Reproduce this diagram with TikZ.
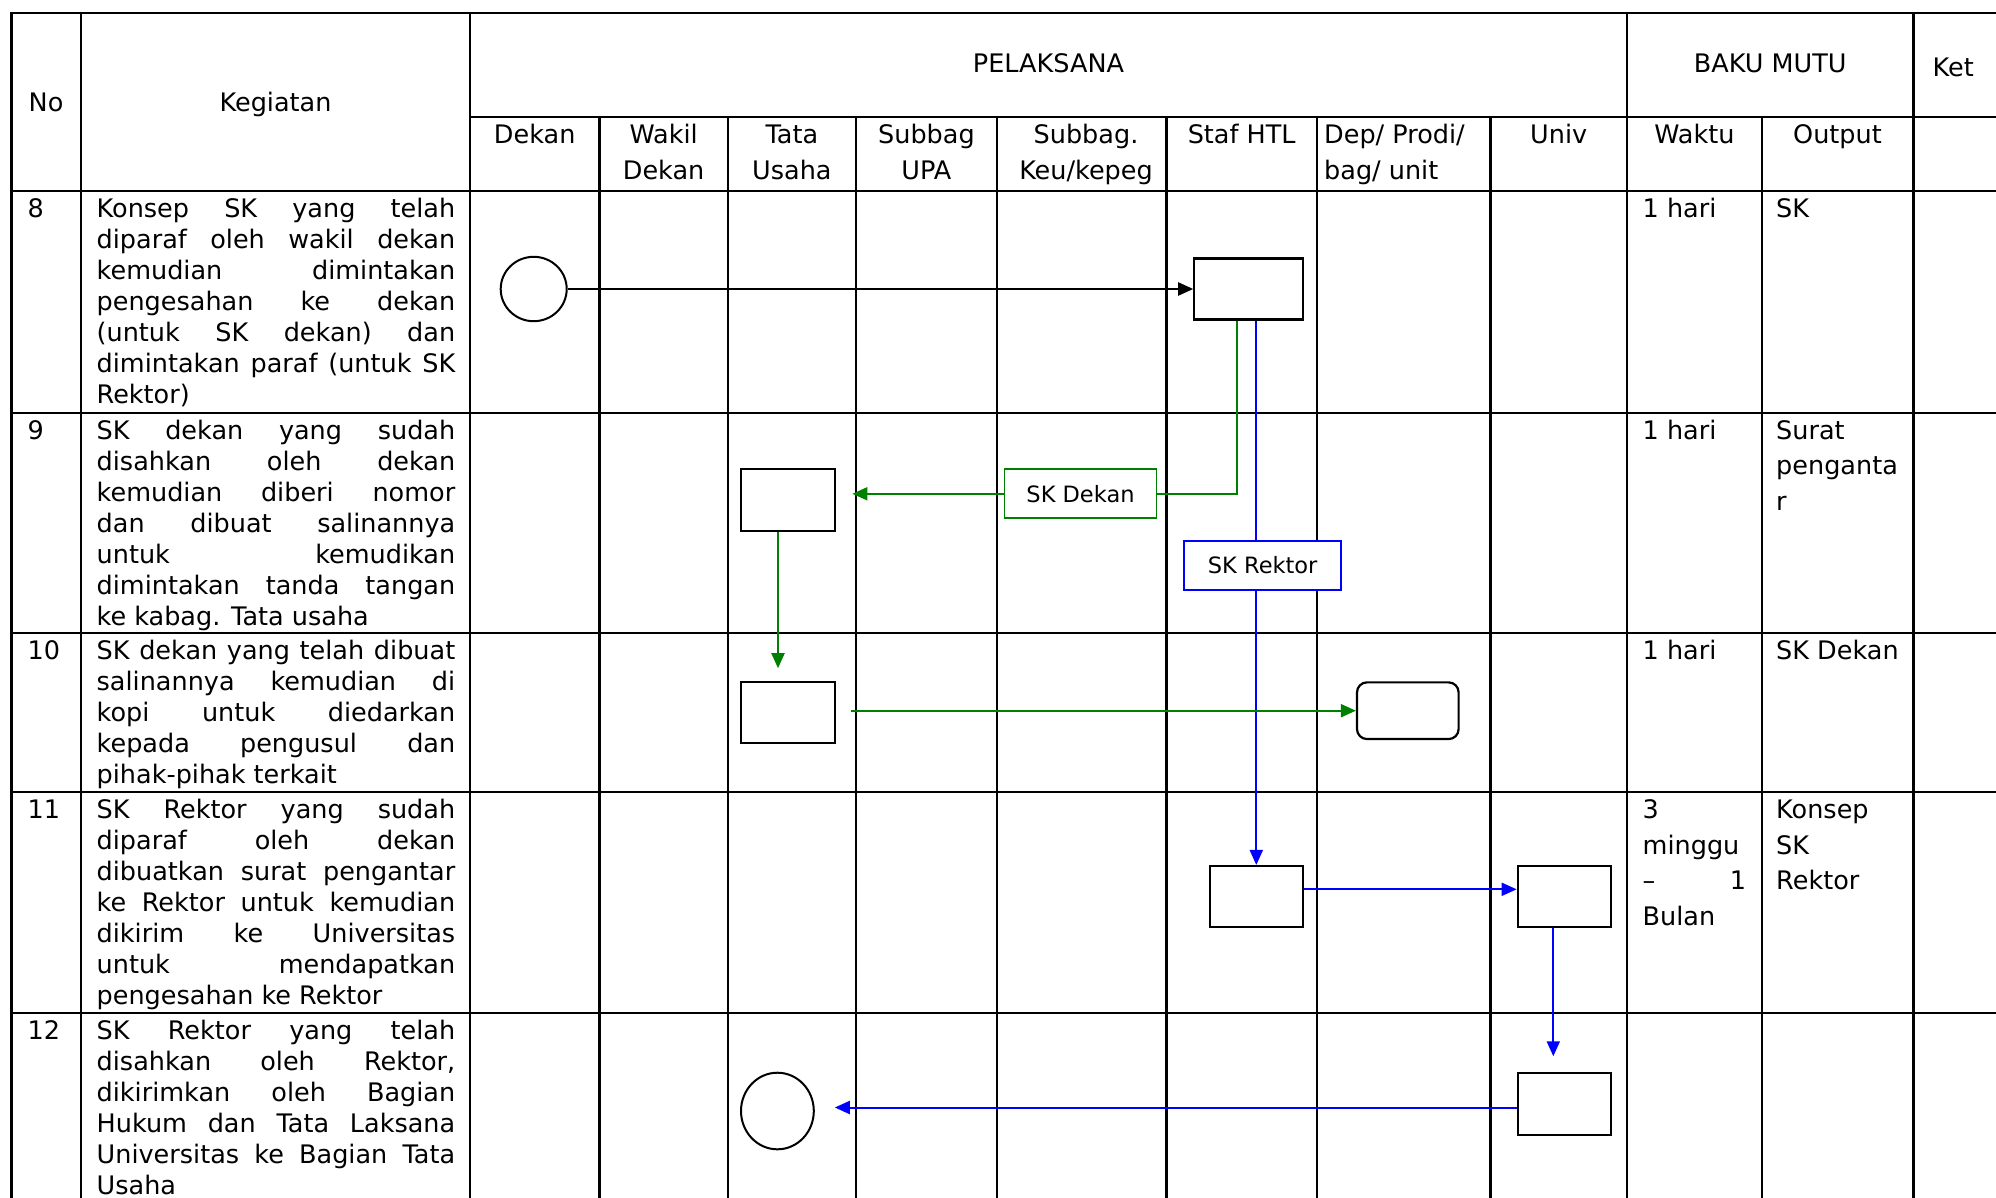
\documentclass[tikz,border=0pt]{standalone}
\usepackage{fontspec}
\setmainfont{DejaVu Sans}
\usetikzlibrary{arrows.meta,shapes.geometric}
\definecolor{flgreen}{RGB}{0,128,0}
\definecolor{flblue}{RGB}{0,0,255}
\newcommand{\JL}[1]{\makebox[\linewidth][s]{#1}\par}
\newcommand{\BodyCell}[2]{\parbox[t]{#1}{\fontsize{25.5pt}{31pt}\selectfont #2}}
\newcommand{\BakuCell}[2]{\parbox[t]{#1}{\fontsize{25.5pt}{35.5pt}\selectfont #2}}
\newcommand{\HeadCell}[2]{\parbox[t]{#1}{\centering\fontsize{25.5pt}{35.5pt}\selectfont #2}}
\begin{document}
\begin{tikzpicture}[x=1pt,y=-1pt,
  tline/.style={line width=2.2pt, line cap=rect},
  txt/.style={inner sep=0pt, anchor=base west, font=\fontsize{25.5pt}{31pt}\selectfont},
  ctxt/.style={inner sep=0pt, anchor=base, font=\fontsize{25.5pt}{31pt}\selectfont},
  procbox/.style={draw, line width=2.2pt, rectangle, inner sep=0pt, fill=white},
  termcirc/.style={draw, line width=2pt, ellipse, inner sep=0pt},
  lbl/.style={draw, fill=white, line width=1.8pt, rectangle, inner sep=0pt, font=\fontsize{22.5pt}{27pt}\selectfont},
  karr/.style={draw=black, line width=2.2pt, -{Triangle[length=15pt,width=13pt]}},
  garr/.style={draw=flgreen, line width=2pt, -{Triangle[length=15pt,width=13pt]}},
  gln/.style={draw=flgreen, line width=2pt},
  barr/.style={draw=flblue, line width=2pt, -{Triangle[length=15pt,width=13pt]}},
  bln/.style={draw=flblue, line width=2pt}
]
\useasboundingbox (0,0) rectangle (1996,1197);
% ---------- table grid ----------
\draw[tline] (11.5,12.7) -- (2000,12.7);
\draw[tline] (470,117.3) -- (2000,117.3);
\foreach \yy in {190.7,412.7,632.7,792,1012.7} \draw[tline] (11.5,\yy) -- (2000,\yy);
\foreach \xx in {11.5,81,470,1627,1913.4} \draw[tline] (\xx,12.7) -- (\xx,1205);
\foreach \xx in {599.5,727.7,856,996.8,1166.4,1317,1490.4,1761.6} \draw[tline] (\xx,117.3) -- (\xx,1205);
% ---------- header ----------
\node[txt] (hno) at (28.5,111) {No};
\node[ctxt] (hkeg) at (275.5,111) {Kegiatan};
\node[ctxt] (hpel) at (1048.5,72.5) {PELAKSANA};
\node[ctxt] (hbaku) at (1770.2,72.5) {BAKU MUTU};
\node[txt] (hket) at (1932.5,76) {Ket};
\node[ctxt] (hdek) at (534.7,143.5) {Dekan};
\node[ctxt] (hwak) at (663.6,143.5) {\HeadCell{125pt}{Wakil\\Dekan}};
\node[ctxt] (htata) at (791.9,143.5) {\HeadCell{125pt}{Tata\\Usaha}};
\node[ctxt] (hupa) at (926.4,143.5) {\HeadCell{135pt}{Subbag\\UPA}};
\node[ctxt] (hkeu) at (1086,143.5) {\HeadCell{165pt}{Subbag.\\Keu/kepeg}};
\node[ctxt] (hstaf) at (1241.7,143.5) {Staf HTL};
\node[txt] (hdep) at (1324,143.5) {\BakuCell{165pt}{Dep/ Prodi/\\bag/ unit}};
\node[ctxt] (huniv) at (1558.7,143.5) {Univ};
\node[ctxt] (hwaktu) at (1694.3,143.5) {Waktu};
\node[ctxt] (hout) at (1837.5,143.5) {Output};
% ---------- row numbers ----------
\node[txt] (n8) at (27.5,217.2) {8};
\node[txt] (n9) at (27.5,439.2) {9};
\node[txt] (n10) at (27.5,659.2) {10};
\node[txt] (n11) at (27.5,818.5) {11};
\node[txt] (n12) at (27.5,1039.2) {12};
% ---------- kegiatan ----------
\node[txt] (k8) at (96.5,217.2) {\BodyCell{358.5pt}{%
\JL{Konsep SK yang telah}\JL{diparaf oleh wakil dekan}\JL{kemudian dimintakan}%
\JL{pengesahan ke dekan}\JL{(untuk SK dekan) dan}\JL{dimintakan paraf (untuk SK}Rektor)}};
\node[txt] (k9) at (96.5,439.2) {\BodyCell{358.5pt}{%
\JL{SK dekan yang sudah}\JL{disahkan oleh dekan}\JL{kemudian diberi nomor}%
\JL{dan dibuat salinannya}\JL{untuk kemudikan}\JL{dimintakan tanda tangan}ke kabag. Tata usaha}};
\node[txt] (k10) at (96.5,659.2) {\BodyCell{358.5pt}{%
\JL{SK dekan yang telah dibuat}\JL{salinannya kemudian di}\JL{kopi untuk diedarkan}%
\JL{kepada pengusul dan}pihak-pihak terkait}};
\node[txt] (k11) at (96.5,818.5) {\BodyCell{358.5pt}{%
\JL{SK Rektor yang sudah}\JL{diparaf oleh dekan}\JL{dibuatkan surat pengantar}%
\JL{ke Rektor untuk kemudian}\JL{dikirim ke Universitas}\JL{untuk mendapatkan}pengesahan ke Rektor}};
\node[txt] (k12) at (96.5,1039.2) {\BodyCell{358.5pt}{%
\JL{SK Rektor yang telah}\JL{disahkan oleh Rektor,}\JL{dikirimkan oleh Bagian}%
\JL{Hukum dan Tata Laksana}\JL{Universitas ke Bagian Tata}Usaha}};
% ---------- baku mutu ----------
\node[txt] (w8) at (1642.5,217.2) {1 hari};
\node[txt] (o8) at (1776,217.2) {SK};
\node[txt] (w9) at (1642.5,439.2) {1 hari};
\node[txt] (o9) at (1776,439.2) {\BakuCell{130pt}{Surat\par penganta\par r}};
\node[txt] (w10) at (1642.5,659.2) {1 hari};
\node[txt] (o10) at (1776,659.2) {SK Dekan};
\node[txt] (w11) at (1642.5,818.5) {\BakuCell{103.5pt}{3\par minggu\par\JL{– 1}Bulan}};
\node[txt] (o11) at (1776,818.5) {\BakuCell{130pt}{Konsep\par SK\par Rektor}};
% ---------- flow shapes ----------
\node[termcirc, minimum width=66pt, minimum height=64.4pt] (c8) at (533.7,289) {};
\node[procbox, minimum width=108.4pt, minimum height=61pt] (b8) at (1248.5,289) {};
\node[procbox, minimum width=93.8pt, minimum height=61.7pt] (t9) at (788,500.2) {};
\node[procbox, minimum width=93.8pt, minimum height=61pt] (t10) at (788,712.8) {};
\node[procbox, rounded corners=10pt, minimum width=101.6pt, minimum height=56.7pt] (d10) at (1407.8,710.7) {};
\node[procbox, minimum width=93.4pt, minimum height=61.3pt] (s11) at (1256.3,896.7) {};
\node[procbox, minimum width=93.3pt, minimum height=61.3pt] (u11) at (1564.4,896.7) {};
\node[procbox, minimum width=93.3pt, minimum height=62.3pt] (u12) at (1564.4,1103.9) {};
\node[termcirc, minimum width=72.8pt, minimum height=76.6pt] (c12) at (777.4,1111) {};
% labels
\node[lbl, draw=flgreen, minimum width=152pt, minimum height=49pt] (skd) at (1080.5,493.8) {SK Dekan};
\node[lbl, draw=flblue, minimum width=157pt, minimum height=49pt] (skr) at (1262.7,565.3) {SK Rektor};
% ---------- connectors ----------
\draw[karr] (c8) -- (b8);
\draw[bln] (b8.south -| s11.north) -- (skr.north -| s11.north);
\draw[barr] (skr.south -| s11.north) -- (s11.north);
\draw[gln] ([xshift=-11.8pt]b8.south) |- (skd.east);
\draw[garr, shorten >=16.4pt] (skd.west) -- (skd.west -| t9.east);
\draw[garr, shorten >=13pt] ([xshift=-10pt]t9.south) -- ([xshift=-10pt]t10.north);
\draw[garr, shorten <=15pt] (t10.east |- d10.west) -- (d10.west);
\draw[barr] ([yshift=7.4pt]s11.east) -- ([yshift=7.4pt]u11.west);
\draw[barr, shorten >=15.4pt] ([xshift=-11.1pt]u11.south) -- ([xshift=-11.1pt]u12.north);
\coordinate (u12w) at ([yshift=-3.6pt]u12.west);
\draw[barr, shorten >=20pt] (u12w) -- (u12w -| c12.east);
\end{tikzpicture}
\end{document}
